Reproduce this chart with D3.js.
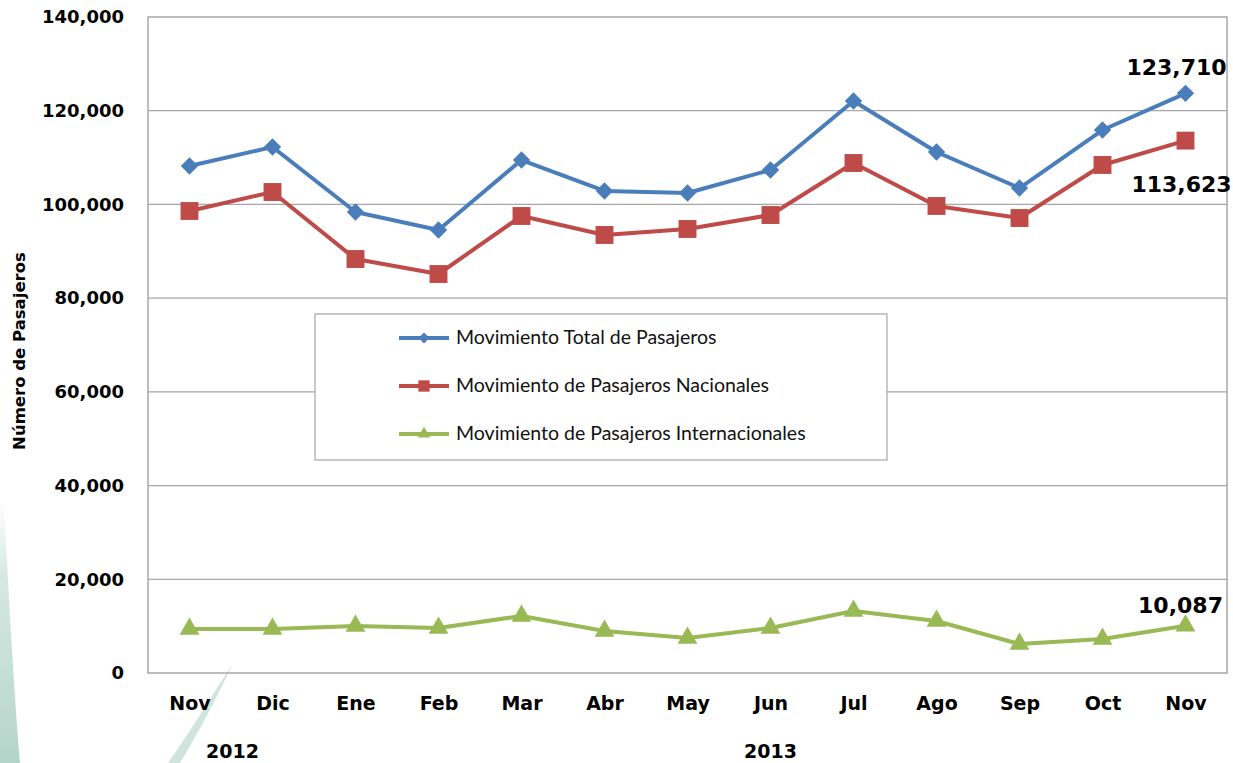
<!DOCTYPE html>
<html>
<head>
<meta charset="utf-8">
<script src="https://cdn.jsdelivr.net/npm/d3@7"></script>
<style>
  body { margin: 0; background: #fff; }
  svg { font-family: "DejaVu Sans", sans-serif; }
</style>
</head>
<body>
<script>
// monthly data, Nov 2012 - Nov 2013
var months = ["Nov", "Dic", "Ene", "Feb", "Mar", "Abr", "May", "Jun", "Jul", "Ago", "Sep", "Oct", "Nov"];
var total = [108200, 112250, 98380, 94550, 109480, 102870, 102440, 107350, 122070, 111190, 103500, 115880, 123710];
var nacionales = [98600, 102650, 88350, 85150, 97530, 93480, 94760, 97740, 108840, 99670, 97100, 108420, 113623];
var internacionales = [9390, 9390, 10030, 9600, 12170, 8960, 7470, 9600, 13230, 11100, 6190, 7260, 10087];
var yTicks = [0, 20000, 40000, 60000, 80000, 100000, 120000, 140000];
var years = [{ label: "2012", from: 0, to: 1 }, { label: "2013", from: 2, to: 12 }];
var seriesNames = ["Movimiento Total de Pasajeros", "Movimiento de Pasajeros Nacionales", "Movimiento de Pasajeros Internacionales"];

var width = 1233, height = 763;
var m = { left: 148, right: 6, top: 17, bottom: 90 };

var svg = d3.select("body").append("svg")
    .attr("width", width)
    .attr("height", height);

// faint decorative background shapes
var defs = svg.append("defs");
var g1 = defs.append("linearGradient").attr("id", "fadeV").attr("x1", 0).attr("y1", 0).attr("x2", 0).attr("y2", 1);
g1.append("stop").attr("offset", 0).attr("stop-color", "#c3ddd5").attr("stop-opacity", 0);
g1.append("stop").attr("offset", 0.3).attr("stop-color", "#c3ddd5").attr("stop-opacity", 0.7);
g1.append("stop").attr("offset", 1).attr("stop-color", "#afd2c7").attr("stop-opacity", 0.95);
svg.append("path")
    .attr("d", "M0,500 L4,505 C9,600 14,690 20,763 L0,763 Z")
    .attr("fill", "url(#fadeV)");
svg.append("path")
    .attr("d", "M232,665 C215,690 195,725 168,763 L180,763 C200,730 218,695 232,665 Z")
    .attr("fill", "#afd2c7").attr("opacity", 0.6);

var x = d3.scalePoint()
    .domain(d3.range(months.length))
    .range([m.left, width - m.right])
    .padding(0.5);

var y = d3.scaleLinear()
    .domain([0, 140000])
    .range([height - m.bottom, m.top]);

var plotW = width - m.right - m.left;

// square diamond marker (d3's own diamond is too tall)
var squareDiamond = {
  draw: function (ctx, size) {
    var r = Math.sqrt(size / 2);
    ctx.moveTo(0, -r); ctx.lineTo(r, 0); ctx.lineTo(0, r); ctx.lineTo(-r, 0); ctx.closePath();
  }
};

// gridlines
svg.append("g")
    .selectAll("line")
    .data(yTicks.filter(function (d) { return d > 0 && d < 140000; }))
    .enter().append("line")
    .attr("x1", m.left).attr("x2", width - m.right)
    .attr("y1", function (d) { return y(d); })
    .attr("y2", function (d) { return y(d); })
    .attr("stroke", "#a6a6a6").attr("stroke-width", 1.3);

// frame
svg.append("rect")
    .attr("x", m.left).attr("y", y(140000))
    .attr("width", plotW).attr("height", y(0) - y(140000))
    .attr("fill", "none").attr("stroke", "#a6a6a6").attr("stroke-width", 1.5);

// y axis labels
var yAxis = d3.axisLeft(y).tickValues(yTicks).tickSize(0).tickPadding(24)
    .tickFormat(d3.format(","));
svg.append("g")
    .attr("transform", "translate(" + m.left + ",0)")
    .call(yAxis)
    .call(function (g) { g.select(".domain").remove(); })
    .selectAll("text")
    .attr("font-family", "DejaVu Sans, sans-serif")
    .attr("font-size", 18).attr("font-weight", "bold").attr("fill", "#000");

// x axis labels
var xAxis = d3.axisBottom(x).tickSize(0).tickPadding(24)
    .tickFormat(function (i) { return months[i]; });
svg.append("g")
    .attr("transform", "translate(0," + y(0) + ")")
    .call(xAxis)
    .call(function (g) { g.select(".domain").remove(); })
    .selectAll("text")
    .attr("font-family", "DejaVu Sans, sans-serif")
    .attr("font-size", 19).attr("font-weight", "bold").attr("fill", "#000");

// year labels
svg.selectAll(".year")
    .data(years)
    .enter().append("text")
    .attr("class", "year")
    .attr("x", function (d) { return d.label === "2012" ? x(d.from) + 43 : (x(d.from) + x(d.to)) / 2; })
    .attr("y", 758)
    .attr("text-anchor", "middle")
    .attr("font-size", 19).attr("font-weight", "bold")
    .text(function (d) { return d.label; });

// y axis title
svg.append("text")
    .attr("transform", "translate(25,351) rotate(-90)")
    .attr("text-anchor", "middle")
    .attr("font-size", 16.5).attr("font-weight", "bold")
    .text("Número de Pasajeros");

var series = [
  { name: seriesNames[0], values: total, color: "#4a7ebb", shape: squareDiamond, size: 150 },
  { name: seriesNames[1], values: nacionales, color: "#be4b48", shape: d3.symbolSquare, size: 320 },
  { name: seriesNames[2], values: internacionales, color: "#98b954", shape: d3.symbolTriangle, size: 170 }
];

var line = d3.line()
    .x(function (d, i) { return x(i); })
    .y(function (d) { return y(d); });

series.forEach(function (s) {
  svg.append("path")
      .datum(s.values)
      .attr("d", line)
      .attr("fill", "none")
      .attr("stroke", s.color)
      .attr("stroke-width", 4)
      .attr("stroke-linejoin", "round");

  svg.append("g")
      .selectAll("path")
      .data(s.values)
      .enter().append("path")
      .attr("transform", function (d, i) { return "translate(" + x(i) + "," + y(d) + ")"; })
      .attr("d", d3.symbol().type(s.shape).size(s.size))
      .attr("fill", s.color);
});

// end-point data labels
var last = months.length - 1;
var labels = [
  { v: total[last], dx: -9, dy: -18 },
  { v: nacionales[last], dx: -4, dy: 51 },
  { v: internacionales[last], dx: -5, dy: -13 }
];
svg.selectAll(".dlabel")
    .data(labels)
    .enter().append("text")
    .attr("class", "dlabel")
    .attr("x", function (d) { return x(last) + d.dx; })
    .attr("y", function (d) { return y(d.v) + d.dy; })
    .attr("text-anchor", "middle")
    .attr("font-size", 22).attr("font-weight", "bold")
    .text(function (d) { return d3.format(",")(d.v); });

// legend
var leg = svg.append("g").attr("transform", "translate(315,314)");
leg.append("rect")
    .attr("width", 572).attr("height", 146)
    .attr("fill", "#fff").attr("stroke", "#a6a6a6").attr("stroke-width", 1.2);

var items = leg.selectAll(".item")
    .data(series)
    .enter().append("g")
    .attr("transform", function (d, i) { return "translate(0," + (24 + i * 48) + ")"; });
items.append("line")
    .attr("x1", 84).attr("x2", 134)
    .attr("stroke", function (d) { return d.color; })
    .attr("stroke-width", 4);
items.append("path")
    .attr("transform", "translate(109,0)")
    .attr("d", function (d) { return d3.symbol().type(d.shape).size(d.size * 0.4)(); })
    .attr("fill", function (d) { return d.color; });
items.append("text")
    .attr("x", 141).attr("y", 6)
    .attr("font-family", "Lato, sans-serif")
    .attr("font-size", 19.5)
    .attr("fill", "#111")
    .text(function (d) { return d.name; });
</script>
</body>
</html>
